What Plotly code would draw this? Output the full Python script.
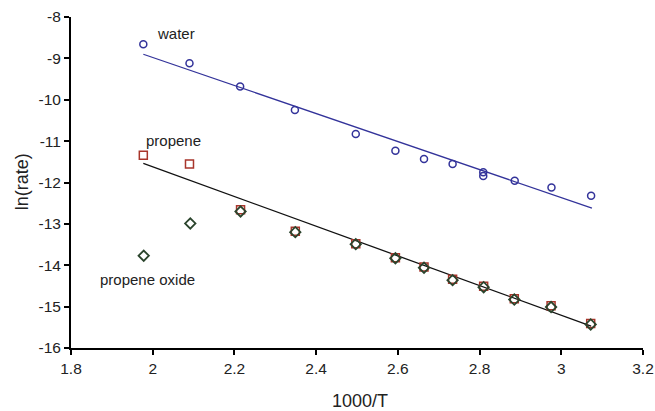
import plotly.graph_objects as go

# Data
water_x = [1.977, 2.090, 2.214, 2.348, 2.497, 2.594, 2.664, 2.734, 2.809, 2.809, 2.886, 2.976, 3.073]
water_y = [-8.66, -9.12, -9.68, -10.25, -10.83, -11.23, -11.43, -11.55, -11.75, -11.84, -11.96, -12.12, -12.32]

propene_x = [1.977, 2.090, 2.215, 2.349, 2.497, 2.594, 2.664, 2.734, 2.810, 2.885, 2.975, 3.072]
propene_y = [-11.34, -11.55, -12.66, -13.18, -13.48, -13.82, -14.04, -14.34, -14.51, -14.81, -14.98, -15.41]

oxide_x = [1.978, 2.092, 2.215, 2.349, 2.497, 2.594, 2.664, 2.734, 2.810, 2.885, 2.975, 3.072]
oxide_y = [-13.77, -12.99, -12.70, -13.20, -13.49, -13.83, -14.06, -14.36, -14.53, -14.83, -15.01, -15.43]

water_fit_x = [1.977, 3.075]
water_fit_y = [-8.90, -12.62]
propene_fit_x = [1.977, 3.073]
propene_fit_y = [-11.54, -15.47]

x_ticks = [1.8, 2.0, 2.2, 2.4, 2.6, 2.8, 3.0, 3.2]
x_tick_labels = ["1.8", "2", "2.2", "2.4", "2.6", "2.8", "3", "3.2"]
y_ticks = [-16, -15, -14, -13, -12, -11, -10, -9, -8]
y_tick_labels = ["-16", "-15", "-14", "-13", "-12", "-11", "-10", "-9", "-8"]

fig = go.Figure()
fig.add_trace(go.Scatter(x=water_fit_x, y=water_fit_y, mode="lines",
                         line=dict(color="#33339a", width=1.3), showlegend=False))
fig.add_trace(go.Scatter(x=propene_fit_x, y=propene_fit_y, mode="lines",
                         line=dict(color="#111111", width=1.3), showlegend=False))
fig.add_trace(go.Scatter(x=water_x, y=water_y, mode="markers",
                         marker=dict(symbol="circle-open", size=7, color="#33339a",
                                     line=dict(width=1.5, color="#33339a")),
                         showlegend=False))
fig.add_trace(go.Scatter(x=propene_x, y=propene_y, mode="markers",
                         marker=dict(symbol="square-open", size=8, color="#a8352b",
                                     line=dict(width=1.5, color="#a8352b")),
                         showlegend=False))
fig.add_trace(go.Scatter(x=oxide_x, y=oxide_y, mode="markers",
                         marker=dict(symbol="diamond-open", size=8, color="#2a442c",
                                     line=dict(width=1.8, color="#2a442c")),
                         showlegend=False))

fam = "Liberation Sans, Arial, sans-serif"
ann_font = dict(family=fam, size=15, color="#222222")
fig.add_annotation(x=2.057, y=-8.39, text="water", showarrow=False, font=ann_font)
fig.add_annotation(x=2.051, y=-10.99, text="propene", showarrow=False, font=ann_font)
fig.add_annotation(x=1.987, y=-14.34, text="propene oxide", showarrow=False, font=ann_font)

tick_font = dict(family=fam, size=15.5, color="#222222")
title_font = dict(family=fam, size=18, color="#222222")

# Axis titles as paper-positioned text
fig.add_annotation(xref="paper", yref="paper", x=0.506, y=-0.160, text="1000/T",
                   showarrow=False, font=title_font, xanchor="center", yanchor="middle")
fig.add_annotation(xref="paper", yref="paper", x=-0.0865, y=0.502, text="ln(rate)",
                   showarrow=False, font=title_font, textangle=-90,
                   xanchor="center", yanchor="middle")

fig.update_layout(
    width=655, height=411,
    margin=dict(l=71, r=12, t=17, b=63),
    paper_bgcolor="white", plot_bgcolor="white",
    font=dict(family=fam, color="#222222"),
    xaxis=dict(range=[1.8, 3.2], tickvals=x_ticks, ticktext=x_tick_labels,
               tickfont=tick_font, automargin=False,
               showgrid=False, zeroline=False, showline=True, linecolor="black",
               linewidth=2, ticks="outside", ticklen=5, tickwidth=2, tickcolor="black"),
    yaxis=dict(range=[-16, -8], tickvals=y_ticks, ticktext=y_tick_labels,
               tickfont=tick_font, automargin=False,
               showgrid=False, zeroline=False, showline=True, linecolor="black",
               linewidth=2, ticks="outside", ticklen=5, tickwidth=2, tickcolor="black"),
)

fig.write_html("out.html")
